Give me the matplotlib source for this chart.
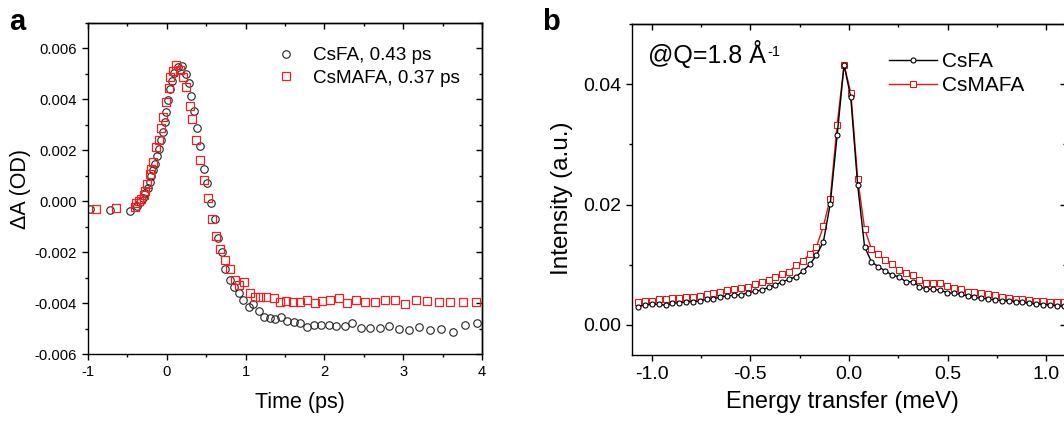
import numpy as np
import matplotlib
matplotlib.use("Agg")
from matplotlib import pyplot as plt
from matplotlib.ticker import MultipleLocator

plt.rcParams['font.family'] = ['Liberation Sans', 'DejaVu Sans']
plt.rcParams['axes.unicode_minus'] = False

# ---- panel a: transient absorption kinetics (ΔA in units of 1e-3 OD)
t_csfa = [-0.979, -0.725, -0.471, -0.378, -0.336, -0.302, -0.272, -0.243, -0.217, -0.196,
          -0.175, -0.150, -0.124, -0.099, -0.074, -0.048, -0.027, -0.006, 0.015, 0.041,
          0.062, 0.096, 0.142, 0.197, 0.239, 0.277, 0.303, 0.341, 0.379, 0.417,
          0.468, 0.510, 0.557, 0.607, 0.654, 0.697, 0.734, 0.798, 0.849, 0.916,
          0.967, 1.039, 1.094, 1.166, 1.229, 1.305, 1.377, 1.453, 1.525, 1.610,
          1.686, 1.779, 1.868, 1.961, 2.058, 2.151, 2.257, 2.354, 2.460, 2.579,
          2.701, 2.816, 2.942, 3.069, 3.200, 3.336, 3.480, 3.632, 3.788, 3.941]
dA_csfa = [-0.32, -0.33, -0.40, -0.20, -0.03, 0.14, 0.32, 0.53, 0.75, 0.99,
           1.24, 1.48, 1.77, 2.07, 2.39, 2.72, 3.11, 3.51, 3.97, 4.39,
           4.72, 5.05, 5.28, 5.30, 4.99, 4.65, 4.14, 3.53, 2.87, 2.16,
           1.28, 0.71, -0.06, -0.71, -1.44, -2.00, -2.66, -3.08, -3.35, -3.60,
           -3.88, -4.16, -4.03, -4.30, -4.56, -4.58, -4.62, -4.53, -4.71, -4.75,
           -4.77, -4.95, -4.86, -4.85, -4.85, -4.89, -4.91, -4.77, -4.96, -4.96,
           -4.96, -4.89, -5.00, -5.07, -4.92, -5.06, -5.02, -5.12, -4.86, -4.79]

t_csmafa = [-0.894, -0.640, -0.408, -0.387, -0.353, -0.323, -0.294, -0.272, -0.247, -0.217,
            -0.196, -0.175, -0.141, -0.103, -0.069, -0.048, -0.014, 0.024, 0.045, 0.079,
            0.121, 0.163, 0.206, 0.239, 0.290, 0.324, 0.375, 0.426, 0.472, 0.523,
            0.578, 0.629, 0.679, 0.734, 0.798, 0.861, 0.916, 0.980, 1.052, 1.115,
            1.187, 1.263, 1.356, 1.432, 1.508, 1.602, 1.686, 1.779, 1.876, 1.974,
            2.075, 2.181, 2.287, 2.405, 2.519, 2.638, 2.765, 2.892, 3.027, 3.158,
            3.306, 3.450, 3.598, 3.759, 3.928]
dA_csmafa = [-0.32, -0.26, -0.23, -0.07, -0.01, 0.10, 0.23, 0.40, 0.66, 1.06,
             1.28, 1.54, 2.13, 2.42, 2.86, 3.31, 3.90, 4.45, 4.86, 5.12,
             5.37, 5.15, 4.86, 4.47, 3.73, 3.21, 2.42, 1.61, 0.82, 0.14,
             -0.69, -1.38, -1.87, -2.30, -2.68, -3.08, -3.29, -3.18, -3.61, -3.77,
             -3.77, -3.77, -3.81, -3.94, -3.93, -3.97, -3.94, -3.86, -3.99, -3.93,
             -3.86, -3.81, -3.99, -3.89, -3.94, -3.97, -3.89, -3.86, -4.03, -3.89,
             -3.92, -3.94, -3.94, -3.95, -3.95]

# ---- panel b: quasi-elastic spectra at Q = 1.8 1/Å (intensity in units of 1e-3)
energy = [-1.069, -1.035, -1.000, -0.965, -0.930, -0.895, -0.861, -0.826, -0.791, -0.756,
          -0.721, -0.687, -0.652, -0.617, -0.582, -0.547, -0.513, -0.478, -0.443, -0.408,
          -0.373, -0.339, -0.304, -0.269, -0.234, -0.199, -0.165, -0.130, -0.095, -0.060,
          -0.025, 0.009, 0.044, 0.079, 0.114, 0.149, 0.183, 0.218, 0.253, 0.288,
          0.323, 0.357, 0.392, 0.427, 0.462, 0.497, 0.531, 0.566, 0.601, 0.636,
          0.671, 0.705, 0.740, 0.775, 0.810, 0.845, 0.879, 0.914, 0.949, 0.984,
          1.019, 1.053, 1.088]
I_csfa = [3.04, 3.31, 3.42, 3.42, 3.26, 3.59, 3.70, 3.81, 3.86, 3.97,
          4.25, 4.30, 4.69, 4.80, 4.97, 4.97, 5.35, 5.57, 5.79, 6.24,
          6.62, 7.17, 7.56, 8.00, 8.94, 10.04, 11.59, 13.80, 20.14, 31.5,
          43.2, 37.8, 23.2, 12.97, 10.49, 9.66, 9.00, 8.28, 8.00, 7.17,
          7.17, 6.35, 5.96, 5.91, 5.79, 5.35, 5.24, 5.08, 4.80, 4.58,
          4.42, 4.30, 4.14, 4.03, 3.97, 3.86, 3.75, 3.59, 3.48, 3.37,
          3.31, 3.15, 3.10]
I_csmafa = [3.86, 3.97, 4.03, 4.25, 4.30, 4.42, 4.53, 4.58, 4.69, 4.86,
            5.13, 5.35, 5.52, 5.79, 5.91, 6.07, 6.35, 6.73, 7.12, 7.45,
            7.89, 8.44, 8.83, 9.93, 10.65, 11.75, 12.97, 16.39, 21.0, 33.3,
            43.2, 38.6, 24.3, 16.00, 12.6, 11.70, 10.76, 10.04, 9.11, 8.55,
            8.28, 7.45, 7.01, 6.90, 6.90, 6.46, 6.07, 5.91, 5.52, 5.41,
            5.24, 5.08, 4.97, 4.69, 4.42, 4.30, 4.25, 4.14, 3.97, 3.97,
            3.86, 3.86, 3.80]


def style_axes(ax, xmaj, xmin, ymaj, ymin, labelsize):
    for s in ax.spines.values():
        s.set_linewidth(1.0)
    ax.xaxis.set_major_locator(MultipleLocator(xmaj))
    ax.xaxis.set_minor_locator(MultipleLocator(xmin))
    ax.yaxis.set_major_locator(MultipleLocator(ymaj))
    ax.yaxis.set_minor_locator(MultipleLocator(ymin))
    ax.tick_params(which='both', direction='out', width=1.0, labelsize=labelsize)
    ax.tick_params(which='major', length=4.5, pad=3.5)
    ax.tick_params(which='minor', length=2.5)
    # mirrored ticks pointing inward on top and right
    top = ax.secondary_xaxis('top')
    right = ax.secondary_yaxis('right')
    top.xaxis.set_major_locator(MultipleLocator(xmaj))
    top.xaxis.set_minor_locator(MultipleLocator(xmin))
    right.yaxis.set_major_locator(MultipleLocator(ymaj))
    right.yaxis.set_minor_locator(MultipleLocator(ymin))
    for sec in (top, right):
        sec.tick_params(which='both', direction='in', width=1.0,
                        labeltop=False, labelright=False)
        sec.tick_params(which='major', length=4.5)
        sec.tick_params(which='minor', length=2.5)
        for s in sec.spines.values():
            s.set_linewidth(1.0)


W, H = 1064, 429
fig = plt.figure(figsize=(W / 100, H / 100), dpi=100)

# panel a
axa = fig.add_axes([88 / W, (H - 354) / H, 394 / W, 331 / H])
axa.plot(t_csfa, np.array(dA_csfa) * 1e-3, 'o', ms=5.4, mfc='none', mec='#222222',
         mew=0.8, label='CsFA, 0.43 ps')
axa.plot(t_csmafa, np.array(dA_csmafa) * 1e-3, 's', ms=5.2, mfc='none', mec='#f02020',
         mew=0.9, label='CsMAFA, 0.37 ps')
axa.set_xlim(-1, 4)
axa.set_ylim(-0.006, 0.007)
style_axes(axa, 1, 0.5, 0.002, 0.001, 10.6)
axa.set_yticks([-0.006, -0.004, -0.002, 0.0, 0.002, 0.004, 0.006])
axa.set_yticklabels(['-0.006', '-0.004', '-0.002', '0.000', '0.002', '0.004', '0.006'])
axa.set_xticks([-1, 0, 1, 2, 3, 4])
axa.set_xticklabels(['-1', '0', '1', '2', '3', '4'])
axa.set_xlabel('Time (ps)', fontsize=15.5)
axa.set_ylabel('ΔA (OD)', fontsize=15.5)
axa.xaxis.set_label_coords(0.538, -0.115)
axa.yaxis.set_label_coords(-0.145, 0.5)
axa.legend(loc='center left', bbox_to_anchor=(0.4797, 0.867), frameon=False,
           fontsize=13.6, handlelength=1.0, handletextpad=0.9, borderpad=0,
           borderaxespad=0, labelspacing=0.3)

# panel b
axb = fig.add_axes([632 / W, (H - 355) / H, 434 / W, 331 / H])
axb.plot(energy, np.array(I_csmafa) * 1e-3, '-s', color='#e01818', lw=1.0, ms=3.8,
         mfc='white', mec='#e01818', mew=0.8, label='CsMAFA', zorder=2)
axb.plot(energy, np.array(I_csfa) * 1e-3, '-o', color='black', lw=1.0, ms=3.6,
         mfc='white', mec='black', mew=0.8, label='CsFA', zorder=3)
axb.set_xlim(-1.1, 1.1)
axb.set_ylim(-0.005, 0.05)
style_axes(axb, 0.5, 0.25, 0.02, 0.01, 14)
axb.set_yticks([0.0, 0.02, 0.04])
axb.set_yticklabels(['0.00', '0.02', '0.04'])
axb.set_xticks([-1.0, -0.5, 0.0, 0.5, 1.0])
axb.set_xticklabels(['-1.0', '-0.5', '0.0', '0.5', '1.0'])
axb.set_xlabel('Energy transfer (meV)', fontsize=17)
axb.set_ylabel('Intensity (a.u.)', fontsize=17.5)
axb.xaxis.set_label_coords(0.485, -0.11)
axb.yaxis.set_label_coords(-0.135, 0.474)
handles, labels = axb.get_legend_handles_labels()
axb.legend(handles[::-1], labels[::-1], loc='center left', bbox_to_anchor=(0.592, 0.85),
           frameon=False, fontsize=15, handlelength=2.3, handletextpad=0.24,
           borderpad=0, borderaxespad=0, labelspacing=0.22)

# "@Q=1.8 Å" with a plain hyphen superscript "-1"
qtext = axb.text(0.037, 0.882, '@Q=1.8 Å', transform=axb.transAxes,
                 fontsize=18, va='baseline', ha='left')
fig.canvas.draw()
bb = qtext.get_window_extent()
fig.text((bb.x1 + 1) / W, 1 - 56 / H, '-1', fontsize=10.5, va='baseline', ha='left')

fig.text(9 / W, 1 - 30 / H, 'a', fontsize=21, fontweight='bold', va='baseline')
fig.text(542 / W, 1 - 30 / H, 'b', fontsize=21, fontweight='bold', va='baseline')

fig.savefig('out.png', dpi=100)
